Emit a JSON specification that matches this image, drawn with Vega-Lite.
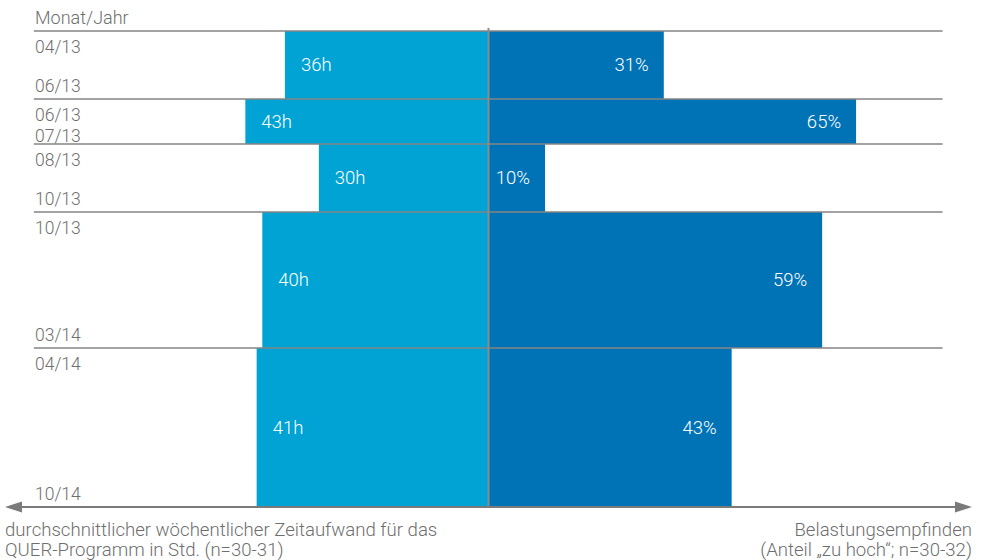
{
  "$schema": "https://vega.github.io/schema/vega-lite/v6.json",
  "width": 967,
  "height": 479,
  "autosize": {"type": "none"},
  "padding": {"left": 5, "top": 28, "right": 12, "bottom": 53},
  "background": "white",
  "config": {
    "view": {"stroke": null},
    "text": {"font": "Roboto", "fontWeight": 300, "fontSize": 17.5}
  },
  "data": {
    "values": [
      {"von": "04/13", "bis": "06/13", "oben": 3, "unten": 71, "stunden": 36, "anteil": 31},
      {"von": "06/13", "bis": "07/13", "oben": 71, "unten": 116, "stunden": 43, "anteil": 65},
      {"von": "08/13", "bis": "10/13", "oben": 116, "unten": 184, "stunden": 30, "anteil": 10},
      {"von": "10/13", "bis": "03/14", "oben": 184, "unten": 320, "stunden": 40, "anteil": 59},
      {"von": "04/14", "bis": "10/14", "oben": 320, "unten": 479, "stunden": 41, "anteil": 43}
    ]
  },
  "resolve": {"scale": {"x": "independent"}},
  "layer": [
    {
      "mark": {"type": "rect", "color": "#00a3d4"},
      "encoding": {
        "x": {"field": "stunden", "type": "quantitative", "scale": {"domain": [-85.5, 85.5], "reverse": true, "nice": false, "zero": false}, "axis": null},
        "x2": {"datum": 0},
        "y": {"field": "oben", "type": "quantitative", "scale": {"domain": [0, 479], "reverse": true, "nice": false, "zero": false}, "axis": null},
        "y2": {"field": "unten"}
      }
    },
    {
      "mark": {"type": "rect", "color": "#0073b6"},
      "encoding": {
        "x": {"field": "anteil", "type": "quantitative", "scale": {"domain": [-85.5, 85.5], "nice": false, "zero": false}, "axis": null},
        "x2": {"datum": 0},
        "y": {"field": "oben", "type": "quantitative", "scale": {"domain": [0, 479], "reverse": true, "nice": false, "zero": false}, "axis": null},
        "y2": {"field": "unten"}
      }
    },
    {
      "transform": [
        {"calculate": "(datum.oben + datum.unten) / 2", "as": "mitte"},
        {"calculate": "datum.stunden + 'h'", "as": "label"}
      ],
      "mark": {"type": "text", "align": "left", "baseline": "middle", "dx": 16, "fontSize": 18.5, "color": "white"},
      "encoding": {
        "x": {"field": "stunden", "type": "quantitative", "scale": {"domain": [-85.5, 85.5], "reverse": true, "nice": false, "zero": false}, "axis": null},
        "y": {"field": "mitte", "type": "quantitative", "scale": {"domain": [0, 479], "reverse": true, "nice": false, "zero": false}, "axis": null},
        "text": {"field": "label"}
      }
    },
    {
      "transform": [
        {"calculate": "(datum.oben + datum.unten) / 2", "as": "mitte"},
        {"calculate": "datum.anteil + '%'", "as": "label"}
      ],
      "mark": {"type": "text", "align": "right", "baseline": "middle", "dx": -15, "fontSize": 18.5, "color": "white"},
      "encoding": {
        "x": {"field": "anteil", "type": "quantitative", "scale": {"domain": [-85.5, 85.5], "nice": false, "zero": false}, "axis": null},
        "y": {"field": "mitte", "type": "quantitative", "scale": {"domain": [0, 479], "reverse": true, "nice": false, "zero": false}, "axis": null},
        "text": {"field": "label"}
      }
    },
    {
      "mark": {"type": "rule", "color": "#858585", "strokeWidth": 1.6},
      "encoding": {
        "x": {"datum": -80.4, "type": "quantitative", "scale": {"domain": [-85.5, 85.5], "nice": false, "zero": false}, "axis": null},
        "x2": {"datum": 80.3},
        "y": {"field": "oben", "type": "quantitative", "scale": {"domain": [0, 479], "reverse": true, "nice": false, "zero": false}, "axis": null}
      }
    },
    {
      "data": {"values": [{"von": 0, "bis": 479, "mitte": 0}]},
      "mark": {"type": "rule", "color": "#8c8c8c", "strokeWidth": 2},
      "encoding": {
        "x": {"field": "mitte", "type": "quantitative", "scale": {"domain": [-85.5, 85.5], "nice": false, "zero": false}, "axis": null},
        "y": {"field": "von", "type": "quantitative", "scale": {"domain": [0, 479], "reverse": true, "nice": false, "zero": false}, "axis": null},
        "y2": {"field": "bis"}
      }
    },
    {
      "data": {"values": [{"links": -84.5, "rechts": 84.5, "hoehe": 479}]},
      "mark": {"type": "rule", "color": "#7a7a7a", "strokeWidth": 2},
      "encoding": {
        "x": {"field": "links", "type": "quantitative", "scale": {"domain": [-85.5, 85.5], "nice": false, "zero": false}, "axis": null},
        "x2": {"field": "rechts"},
        "y": {"field": "hoehe", "type": "quantitative", "scale": {"domain": [0, 479], "reverse": true, "nice": false, "zero": false}, "axis": null}
      }
    },
    {
      "data": {"values": [{"pos": -84.0, "hoehe": 479, "form": "M-1,0L1,-0.65L1,0.65Z"}, {"pos": 84.0, "hoehe": 479, "form": "M1,0L-1,-0.65L-1,0.65Z"}]},
      "mark": {"type": "point", "filled": true, "color": "#7a7a7a", "opacity": 1, "size": 289, "strokeWidth": 0},
      "encoding": {
        "x": {"field": "pos", "type": "quantitative", "scale": {"domain": [-85.5, 85.5], "nice": false, "zero": false}, "axis": null},
        "y": {"field": "hoehe", "type": "quantitative", "scale": {"domain": [0, 479], "reverse": true, "nice": false, "zero": false}, "axis": null},
        "shape": {"field": "form", "type": "nominal", "scale": null, "legend": null}
      }
    },
    {
      "mark": {"type": "text", "align": "left", "baseline": "alphabetic", "dy": 22, "color": "#6e6e6e"},
      "encoding": {
        "x": {"datum": -80.2, "type": "quantitative", "scale": {"domain": [-85.5, 85.5], "nice": false, "zero": false}, "axis": null},
        "y": {"field": "oben", "type": "quantitative", "scale": {"domain": [0, 479], "reverse": true, "nice": false, "zero": false}, "axis": null},
        "text": {"field": "von"}
      }
    },
    {
      "transform": [
        {"calculate": "max(datum.oben + 43, datum.unten - 7)", "as": "zeile"}
      ],
      "mark": {"type": "text", "align": "left", "baseline": "alphabetic", "color": "#6e6e6e"},
      "encoding": {
        "x": {"datum": -80.2, "type": "quantitative", "scale": {"domain": [-85.5, 85.5], "nice": false, "zero": false}, "axis": null},
        "y": {"field": "zeile", "type": "quantitative", "scale": {"domain": [0, 479], "reverse": true, "nice": false, "zero": false}, "axis": null},
        "text": {"field": "bis"}
      }
    },
    {
      "data": {"values": [{"titel": "Monat/Jahr", "pos": -80.2, "hoehe": -4}]},
      "mark": {"type": "text", "align": "left", "baseline": "alphabetic", "fontSize": 18, "color": "#6e6e6e"},
      "encoding": {
        "x": {"field": "pos", "type": "quantitative", "scale": {"domain": [-85.5, 85.5], "nice": false, "zero": false}, "axis": null},
        "y": {"field": "hoehe", "type": "quantitative", "scale": {"domain": [0, 479], "reverse": true, "nice": false, "zero": false}, "axis": null},
        "text": {"field": "titel"}
      }
    },
    {
      "data": {"values": [{"titel": "durchschnittlicher wöchentlicher Zeitaufwand für das\nQUER-Programm in Std. (n=30-31)", "pos": -85.5, "hoehe": 508}]},
      "mark": {"type": "text", "align": "left", "baseline": "alphabetic", "lineBreak": "\n", "lineHeight": 20, "fontSize": 18.6, "color": "#6e6e6e"},
      "encoding": {
        "x": {"field": "pos", "type": "quantitative", "scale": {"domain": [-85.5, 85.5], "nice": false, "zero": false}, "axis": null},
        "y": {"field": "hoehe", "type": "quantitative", "scale": {"domain": [0, 479], "reverse": true, "nice": false, "zero": false}, "axis": null},
        "text": {"field": "titel"}
      }
    },
    {
      "data": {"values": [{"titel": "Belastungsempfinden\n(Anteil „zu hoch“; n=30-32)", "pos": 85.5, "hoehe": 508}]},
      "mark": {"type": "text", "align": "right", "baseline": "alphabetic", "lineBreak": "\n", "lineHeight": 20, "fontSize": 18.6, "color": "#6e6e6e"},
      "encoding": {
        "x": {"field": "pos", "type": "quantitative", "scale": {"domain": [-85.5, 85.5], "nice": false, "zero": false}, "axis": null},
        "y": {"field": "hoehe", "type": "quantitative", "scale": {"domain": [0, 479], "reverse": true, "nice": false, "zero": false}, "axis": null},
        "text": {"field": "titel"}
      }
    }
  ]
}
